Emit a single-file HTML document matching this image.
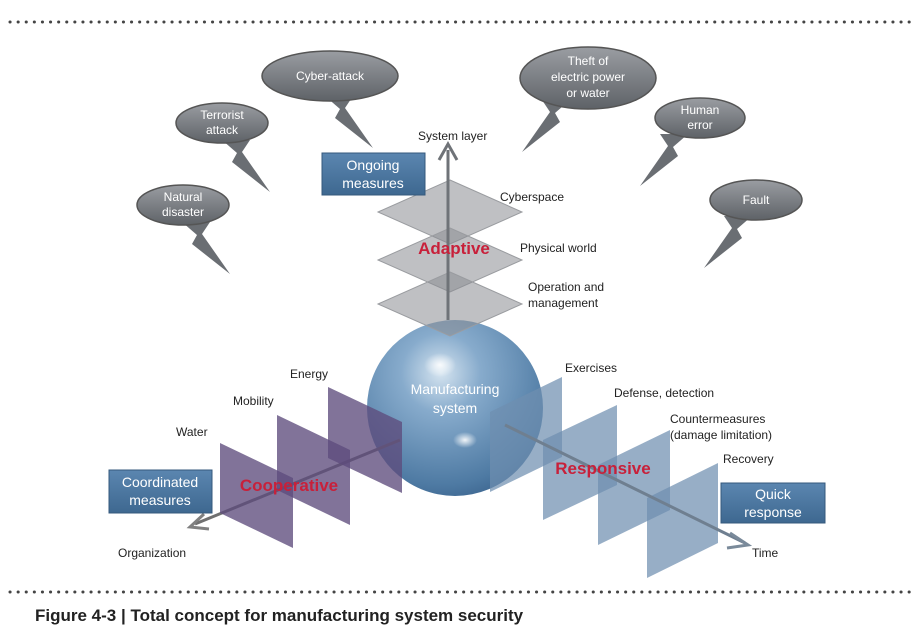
<!DOCTYPE html>
<html><head><meta charset="utf-8"><style>
html,body{margin:0;padding:0;background:#fff;}
svg{display:block;font-family:"Liberation Sans",sans-serif;}
.l{font-size:12px;fill:#222;}
.w{font-size:12px;fill:#fff;text-anchor:middle;}
.b{font-size:14px;fill:#fff;text-anchor:middle;}
.r{font-size:17px;font-weight:bold;fill:#c8203a;text-anchor:middle;}
</style></head><body>
<svg width="923" height="630" viewBox="0 0 923 630">
<defs>
<radialGradient id="sph" cx="0.42" cy="0.3" r="0.75">
<stop offset="0" stop-color="#d5e4f0"/><stop offset="0.3" stop-color="#87abcc"/><stop offset="0.85" stop-color="#4e7aa3"/><stop offset="1" stop-color="#3d6690"/></radialGradient>
<radialGradient id="hl" cx="0.5" cy="0.5" r="0.5"><stop offset="0" stop-color="#fff" stop-opacity="0.9"/><stop offset="1" stop-color="#fff" stop-opacity="0"/></radialGradient>
<linearGradient id="bub" x1="0" y1="0" x2="0" y2="1"><stop offset="0" stop-color="#9a9da2"/><stop offset="1" stop-color="#5e6267"/></linearGradient>
<linearGradient id="box" x1="0" y1="0" x2="0" y2="1"><stop offset="0" stop-color="#5b86b0"/><stop offset="1" stop-color="#3e6890"/></linearGradient>
<g id="tailR"><path d="M0,0 L28,0 L20,12 L48,52 L10,22 L15,13 Z" fill="#6a6e73"/></g>
</defs>
<line x1="10" y1="22" x2="912" y2="22" stroke="#444" stroke-width="3" stroke-dasharray="0.1 8" stroke-linecap="round"/>
<line x1="10" y1="592" x2="912" y2="592" stroke="#444" stroke-width="3" stroke-dasharray="0.1 8" stroke-linecap="round"/>
<text x="35" y="621" font-size="17" font-weight="bold" fill="#222">Figure 4-3 | Total concept for manufacturing system security</text>

<use href="#tailR" transform="translate(325,96)"/>
<ellipse cx="330" cy="76" rx="68" ry="25" fill="url(#bub)" stroke="#555" stroke-width="1.5"/>
<text class="w" x="330" y="80">Cyber-attack</text>
<use href="#tailR" transform="translate(222,140)"/>
<ellipse cx="222" cy="123" rx="46" ry="20" fill="url(#bub)" stroke="#555" stroke-width="1.5"/>
<text class="w" x="222" y="119">Terrorist</text><text class="w" x="222" y="134">attack</text>
<use href="#tailR" transform="translate(182,222)"/>
<ellipse cx="183" cy="205" rx="46" ry="20" fill="url(#bub)" stroke="#555" stroke-width="1.5"/>
<text class="w" x="183" y="201">Natural</text><text class="w" x="183" y="216">disaster</text>
<use href="#tailR" transform="translate(570,100) scale(-1,1)"/>
<ellipse cx="588" cy="78" rx="68" ry="31" fill="url(#bub)" stroke="#555" stroke-width="1.5"/>
<text class="w" x="588" y="65">Theft of</text><text class="w" x="588" y="81">electric power</text><text class="w" x="588" y="97">or water</text>
<use href="#tailR" transform="translate(688,134) scale(-1,1)"/>
<ellipse cx="700" cy="118" rx="45" ry="20" fill="url(#bub)" stroke="#555" stroke-width="1.5"/>
<text class="w" x="700" y="114">Human</text><text class="w" x="700" y="129">error</text>
<use href="#tailR" transform="translate(752,216) scale(-1,1)"/>
<ellipse cx="756" cy="200" rx="46" ry="20" fill="url(#bub)" stroke="#555" stroke-width="1.5"/>
<text class="w" x="756" y="204">Fault</text>

<circle cx="455" cy="408" r="88" fill="url(#sph)"/>
<ellipse cx="440" cy="365" rx="16" ry="12" fill="url(#hl)"/>
<ellipse cx="465" cy="440" rx="12" ry="8" fill="url(#hl)"/>
<text class="w" x="455" y="394" style="font-size:14px">Manufacturing</text>
<text class="w" x="455" y="413" style="font-size:14px">system</text>

<g fill="#8a8d91" fill-opacity="0.55" stroke="#9a9ca0" stroke-width="1">
<path d="M450,180 L522,212 L450,244 L378,212 Z"/>
<path d="M450,228 L522,260 L450,292 L378,260 Z"/>
<path d="M450,272 L522,304 L450,336 L378,304 Z"/>
</g>
<line x1="448" y1="320" x2="448" y2="150" stroke="#6f7378" stroke-width="3"/>
<path d="M439,160 L448,144 L457,160" fill="none" stroke="#6f7378" stroke-width="3"/>
<text class="l" x="418" y="140">System layer</text>
<text class="l" x="500" y="201">Cyberspace</text>
<text class="l" x="520" y="252">Physical world</text>
<text class="l" x="528" y="291">Operation and</text>
<text class="l" x="528" y="307">management</text>
<text class="r" x="454" y="254">Adaptive</text>

<line x1="400" y1="440" x2="195" y2="524" stroke="#707070" stroke-width="3"/>
<path d="M204,514 L190,527 L209,529" fill="none" stroke="#808080" stroke-width="3"/>
<g fill="#5e4b7c" fill-opacity="0.78">
<path d="M220,443 L293,478 L293,548 L220,513 Z"/>
<path d="M277,415 L350,450 L350,525 L277,490 Z"/>
<path d="M328,387 L402,422 L402,493 L328,458 Z"/>
</g>
<text class="l" x="176" y="436">Water</text>
<text class="l" x="233" y="405">Mobility</text>
<text class="l" x="290" y="378">Energy</text>
<text class="l" x="118" y="557">Organization</text>
<text class="r" x="289" y="491">Cooperative</text>

<g fill="#6f8fb0" fill-opacity="0.72">
<path d="M490,412 L562,377 L562,457 L490,492 Z"/>
<path d="M543,440 L617,405 L617,485 L543,520 Z"/>
<path d="M598,465 L670,430 L670,510 L598,545 Z"/>
<path d="M647,498 L718,463 L718,543 L647,578 Z"/>
</g>
<line x1="505" y1="425" x2="745" y2="543" stroke="#6f7f90" stroke-width="3"/>
<path d="M730,533 L748,545 L727,548" fill="none" stroke="#7a8a9a" stroke-width="3"/>
<text class="l" x="565" y="372">Exercises</text>
<text class="l" x="614" y="397">Defense, detection</text>
<text class="l" x="670" y="423">Countermeasures</text>
<text class="l" x="670" y="439">(damage limitation)</text>
<text class="l" x="723" y="463">Recovery</text>
<text class="l" x="752" y="557">Time</text>
<text class="r" x="603" y="474">Responsive</text>

<rect x="322" y="153" width="103" height="42" fill="url(#box)" stroke="#35597c"/>
<text class="b" x="373" y="170">Ongoing</text><text class="b" x="373" y="188">measures</text>
<rect x="109" y="470" width="103" height="43" fill="url(#box)" stroke="#35597c"/>
<text class="b" x="160" y="487">Coordinated</text><text class="b" x="160" y="505">measures</text>
<rect x="721" y="483" width="104" height="40" fill="url(#box)" stroke="#35597c"/>
<text class="b" x="773" y="499">Quick</text><text class="b" x="773" y="517">response</text>
</svg>
</body></html>
